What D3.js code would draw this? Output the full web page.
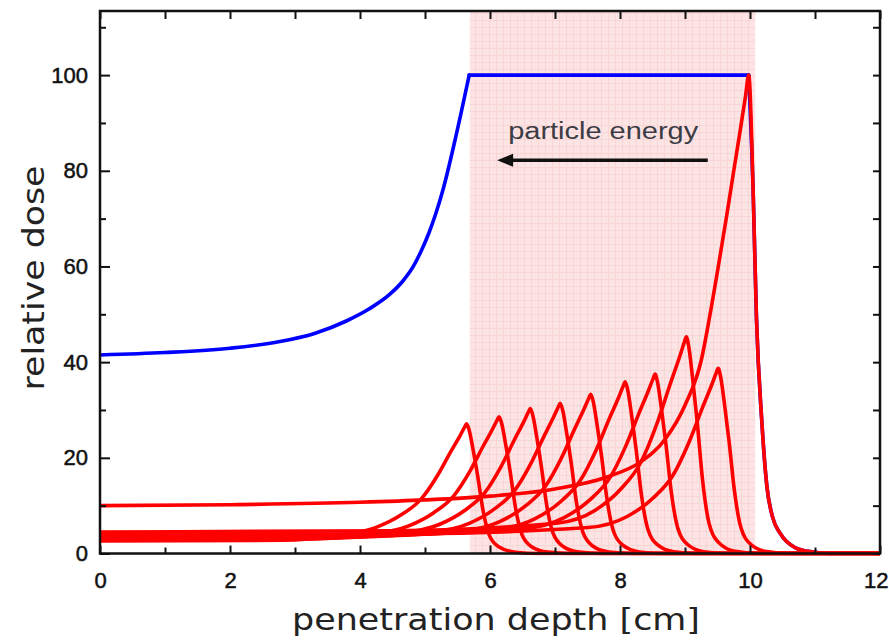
<!DOCTYPE html>
<html>
<head>
<meta charset="utf-8">
<script src="https://cdn.jsdelivr.net/npm/d3@7"></script>
<style>
  html, body { margin: 0; padding: 0; background: #ffffff; }
  svg { display: block; }
</style>
</head>
<body>
<svg id="chart" width="889" height="643"></svg>
<script>
// ---------------- DATA ----------------
const xTicksMajor = [0, 2, 4, 6, 8, 10, 12];
const xTicksMinor = [1, 3, 5, 7, 9, 11];
const yTicksMajor = [0, 20, 40, 60, 80, 100];
const yTicksMinor = [10, 30, 50, 70, 90, 110];
const xTitle = "penetration depth [cm]";
const yTitle = "relative dose";
const annotationText = "particle energy";
const shadedRange = [5.69, 10.08];

// spread-out Bragg peak (blue), split at its corners
const sobpRise = [[0,41.5],[1,42.0],[2,42.9],[2.77,44.3],[3.3,46.0],[3.79,48.6],[4.15,51.2],[4.46,54.2],[4.65,56.8],[4.82,60.0],[4.95,63.5],[5.06,67.0],[5.16,70.8],[5.28,76.2],[5.48,87.5],[5.68,100]];
const sobpFlat = [[5.68,100],[9.98,100]];
const sobpFall = [[9.98,100],[10.05,75],[10.1,49],[10.18,28],[10.26,14],[10.35,7.5],[10.46,4.3],[10.7,1.2],[10.97,0.3],[11.2,0],[12,0]];

// pristine Bragg peaks (red)
const peak1 = [[0,2.6],[2.82,2.76],[3.64,3.79],[4.24,5.42],[4.64,8.13],[4.94,11.38],[5.19,16.26],[5.39,21.14],[5.54,24.66],[5.61,26.42],[5.64,27.1],[5.68,25.75],[5.74,21.68],[5.81,16.26],[5.89,9.21],[5.99,3.79],[6.14,1.36],[6.39,0.27],[6.74,0],[12,0]];
const peak2 = [[0,2.8],[3.07,2.97],[4.14,4.0],[4.74,5.72],[5.14,8.58],[5.44,12.01],[5.69,17.16],[5.89,22.31],[6.04,26.03],[6.11,27.89],[6.14,28.6],[6.18,27.17],[6.24,22.88],[6.31,17.16],[6.39,9.72],[6.49,4.0],[6.64,1.43],[6.89,0.29],[7.24,0],[12,0]];
const peak3 = [[0,3.0],[3.31,3.18],[4.62,4.24],[5.22,6.06],[5.62,9.09],[5.92,12.73],[6.17,18.18],[6.37,23.63],[6.52,27.57],[6.59,29.54],[6.62,30.3],[6.66,28.79],[6.72,24.24],[6.79,18.18],[6.87,10.3],[6.97,4.24],[7.12,1.52],[7.37,0.3],[7.72,0],[12,0]];
const peak4 = [[0,3.1],[3.54,3.29],[5.08,4.4],[5.68,6.28],[6.08,9.42],[6.38,13.19],[6.63,18.84],[6.83,24.49],[6.98,28.57],[7.05,30.62],[7.08,31.4],[7.12,29.83],[7.18,25.12],[7.25,18.84],[7.33,10.68],[7.43,4.4],[7.58,1.57],[7.83,0.31],[8.18,0],[12,0]];
const peak5 = [[0,3.3],[3.78,3.5],[5.55,4.66],[6.15,6.66],[6.55,9.99],[6.85,13.99],[7.1,19.98],[7.3,25.97],[7.45,30.3],[7.52,32.47],[7.55,33.3],[7.59,31.64],[7.65,26.64],[7.72,19.98],[7.8,11.32],[7.9,4.66],[8.05,1.67],[8.3,0.33],[8.65,0],[12,0]];
const peak6 = [[0,3.5],[4.04,3.71],[6.08,5.03],[6.68,7.18],[7.08,10.77],[7.38,15.08],[7.63,21.54],[7.83,28.0],[7.98,32.67],[8.05,35.0],[8.08,35.9],[8.12,34.11],[8.18,28.72],[8.25,21.54],[8.33,12.21],[8.43,5.03],[8.58,1.8],[8.83,0.36],[9.18,0],[12,0]];
const peak7 = [[0,3.7],[4.27,3.92],[6.54,5.25],[7.14,7.5],[7.54,11.25],[7.84,15.75],[8.09,22.5],[8.29,29.25],[8.44,34.13],[8.51,36.56],[8.54,37.5],[8.58,35.63],[8.64,30.0],[8.71,22.5],[8.79,12.75],[8.89,5.25],[9.04,1.88],[9.29,0.38],[9.64,0],[12,0]];
const peak8 = [[0,4.5],[4.51,4.77],[7.02,6.34],[7.62,9.06],[8.02,13.59],[8.32,19.03],[8.57,27.18],[8.77,35.33],[8.92,41.22],[8.99,44.17],[9.02,45.3],[9.06,43.04],[9.12,36.24],[9.19,27.18],[9.27,15.4],[9.37,6.34],[9.52,2.27],[9.77,0.45],[10.12,0],[12,0]];
const peak9 = [[0,3.9],[4.76,4.13],[7.51,5.42],[8.11,7.74],[8.51,11.61],[8.81,16.25],[9.06,23.22],[9.26,30.19],[9.41,35.22],[9.48,37.73],[9.51,38.7],[9.55,36.77],[9.61,30.96],[9.68,23.22],[9.76,13.16],[9.86,5.42],[10.01,1.94],[10.26,0.39],[10.61,0],[12,0]];
const peak10 = [[0,10.0],[2,10.2],[4,10.7],[5,11.2],[6,12.0],[7,13.5],[7.8,16],[8.3,19],[8.7,24],[9.0,31],[9.25,40.4],[9.37,48.8],[9.5,59],[9.64,70.5],[9.75,80],[9.85,88.5],[9.93,95.5],[9.98,100],[10.05,75],[10.1,49],[10.18,28],[10.26,14],[10.35,7.5],[10.46,4.3],[10.7,1.2],[10.97,0.3],[11.2,0],[12,0]];

const redCurves = [peak1, peak2, peak3, peak4, peak5, peak6, peak7, peak8, peak9, peak10];
const blueSegments = [sobpRise, sobpFlat, sobpFall];

// annotation anchor (data units)
const arrowFrom = [9.35, 82.2];
const arrowTo = [6.11, 82.2];
const textAt = [6.28, 86.6];

// ---------------- LAYOUT ----------------
const svg = d3.select("#chart");
const L = 100, R = 880, T = 11, B = 553.5;
const x = d3.scaleLinear().domain([0, 12]).range([L, R]);
const y = d3.scaleLinear().domain([0, 113.4]).range([B, T]);

// pattern for shaded region
const defs = svg.append("defs");
const pat = defs.append("pattern").attr("id", "pinkgrid")
  .attr("patternUnits", "userSpaceOnUse").attr("width", 7).attr("height", 7);
pat.append("rect").attr("width", 7).attr("height", 7).attr("fill", "#fde4e4");
pat.append("path").attr("d", "M6.5,0V7M0,6.5H7").attr("stroke", "#f9d6d6").attr("stroke-width", 1);
defs.append("clipPath").attr("id", "plotclip").append("rect")
  .attr("x", L).attr("y", T).attr("width", R - L).attr("height", B - T + 2);

svg.append("rect")
  .attr("x", x(shadedRange[0])).attr("y", T)
  .attr("width", x(shadedRange[1]) - x(shadedRange[0]))
  .attr("height", B - T)
  .attr("fill", "url(#pinkgrid)");

// curves
const lineGen = d3.line().x(d => x(d[0])).y(d => y(d[1])).curve(d3.curveMonotoneX);
const plot = svg.append("g").attr("clip-path", "url(#plotclip)");

plot.selectAll("path.blue").data(blueSegments).join("path")
  .attr("class", "blue")
  .attr("d", lineGen)
  .attr("fill", "none").attr("stroke", "#0000ff").attr("stroke-width", 3.6)
  .attr("stroke-linejoin", "round").attr("stroke-linecap", "round");

plot.selectAll("path.red").data(redCurves).join("path")
  .attr("class", "red")
  .attr("d", lineGen)
  .attr("fill", "none").attr("stroke", "#ff0000").attr("stroke-width", 3.6)
  .attr("stroke-linejoin", "round").attr("stroke-linecap", "round");

// axes
function styleAxis(g) {
  g.select(".domain").remove();
  g.selectAll(".tick line").attr("stroke", "#111").attr("stroke-width", 2);
  g.selectAll(".tick text")
    .attr("font-family", "'Liberation Sans', Arial, sans-serif")
    .attr("font-size", 22).attr("fill", "#111")
    .attr("stroke", "#111").attr("stroke-width", 0.5);
}
const xAxisG = svg.append("g").attr("transform", `translate(0,${B})`)
  .call(d3.axisBottom(x).tickValues(xTicksMajor).tickSize(-8).tickPadding(19).tickFormat(d3.format("d")))
  .call(styleAxis);
xAxisG.selectAll(".tick text").filter(d => d === 12)
  .attr("text-anchor", "end").attr("x", 8);
svg.append("g").attr("transform", `translate(0,${B})`)
  .call(d3.axisBottom(x).tickValues(xTicksMinor).tickSize(-6).tickFormat(""))
  .call(styleAxis);
svg.append("g").attr("transform", `translate(0,${T})`)
  .call(d3.axisTop(x).tickValues(xTicksMajor.concat(xTicksMinor)).tickSize(-8).tickFormat(""))
  .call(styleAxis);
svg.append("g").attr("transform", `translate(${L},0)`)
  .call(d3.axisLeft(y).tickValues(yTicksMajor).tickSize(-10).tickPadding(12).tickFormat(d3.format("d")))
  .call(styleAxis);
svg.append("g").attr("transform", `translate(${L},0)`)
  .call(d3.axisLeft(y).tickValues(yTicksMinor).tickSize(-6).tickFormat(""))
  .call(styleAxis);
svg.append("g").attr("transform", `translate(${R},0)`)
  .call(d3.axisRight(y).tickValues(yTicksMajor.concat(yTicksMinor)).tickSize(-7).tickFormat(""))
  .call(styleAxis);

// frame
svg.append("rect").attr("x", L).attr("y", T).attr("width", R - L).attr("height", B - T)
  .attr("fill", "none").attr("stroke", "#111").attr("stroke-width", 2.5);

// axis titles
svg.append("text")
  .attr("x", 496).attr("y", 630)
  .attr("text-anchor", "middle")
  .attr("font-family", "'DejaVu Sans', sans-serif")
  .attr("font-size", 30).attr("fill", "#222")
  .attr("textLength", 408).attr("lengthAdjust", "spacingAndGlyphs")
  .text(xTitle);
svg.append("text")
  .attr("transform", "translate(44,278) rotate(-90)")
  .attr("text-anchor", "middle")
  .attr("font-family", "'DejaVu Sans', sans-serif")
  .attr("font-size", 30).attr("fill", "#222")
  .attr("textLength", 225).attr("lengthAdjust", "spacingAndGlyphs")
  .text(yTitle);

// annotation
svg.append("text")
  .attr("x", x(textAt[0])).attr("y", y(textAt[1]))
  .attr("font-family", "'Liberation Sans', Arial, sans-serif")
  .attr("font-size", 23).attr("fill", "#3c3c44")
  .attr("textLength", 190).attr("lengthAdjust", "spacingAndGlyphs")
  .text(annotationText);
const ax0 = x(arrowFrom[0]), ax1 = x(arrowTo[0]), ay = y(arrowFrom[1]);
svg.append("line").attr("x1", ax0).attr("x2", ax1 + 12).attr("y1", ay).attr("y2", ay)
  .attr("stroke", "#111").attr("stroke-width", 3.5);
svg.append("path")
  .attr("d", `M${ax1},${ay}L${ax1 + 16},${ay - 6.5}L${ax1 + 16},${ay + 6.5}Z`)
  .attr("fill", "#111");
</script>
</body>
</html>
